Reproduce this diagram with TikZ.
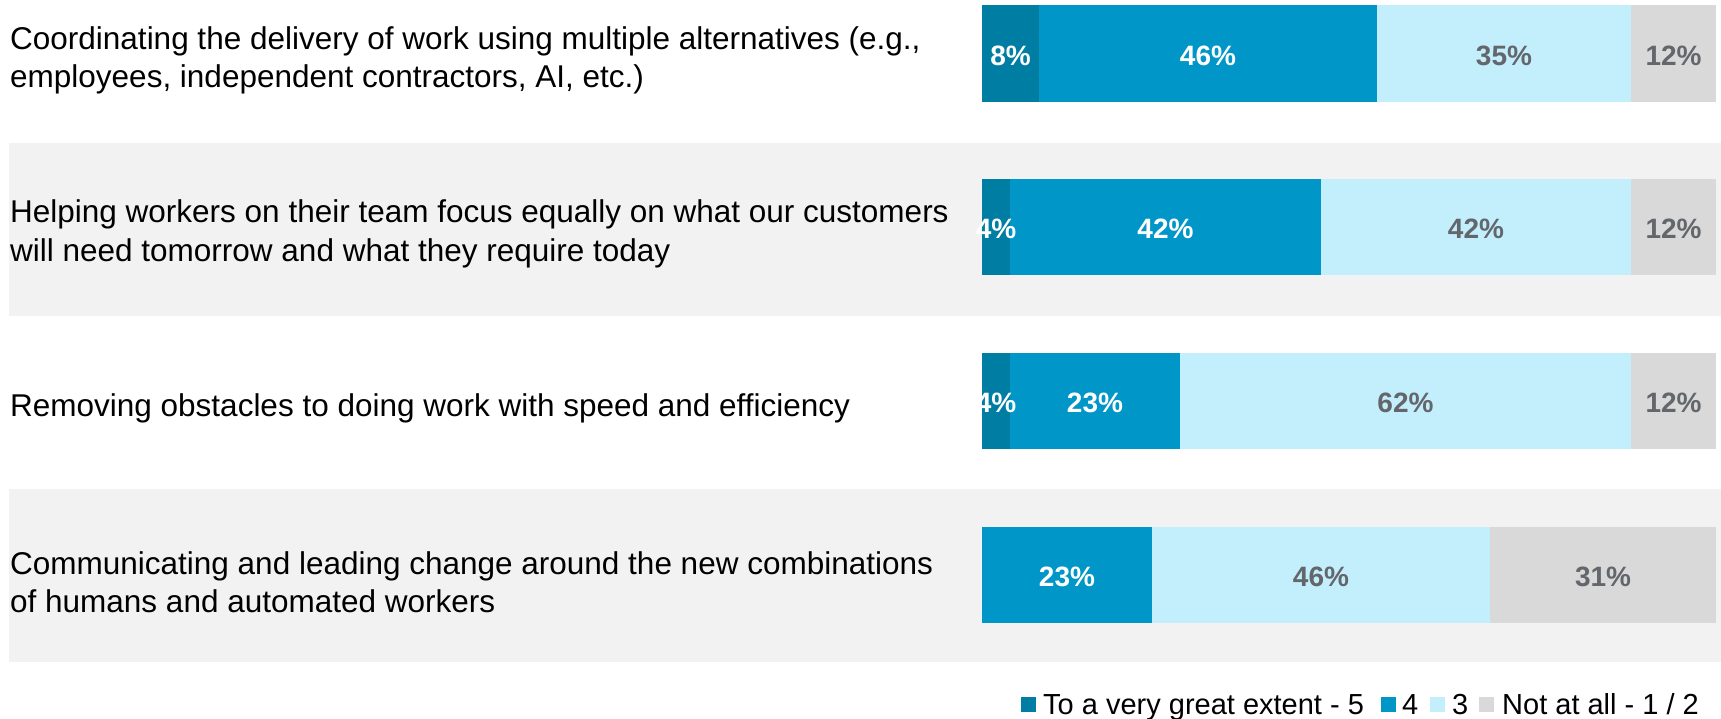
\documentclass[tikz,border=0pt]{standalone}
\usepackage{fontspec}
\setmainfont{Liberation Sans}
\definecolor{cfive}{HTML}{007DA3}
\definecolor{cfour}{HTML}{0096C7}
\definecolor{cthree}{HTML}{C3EFFD}
\definecolor{clow}{HTML}{D9D9D9}
\definecolor{band}{HTML}{F2F2F2}
\definecolor{lbl}{HTML}{63666A}
\begin{document}
\begin{tikzpicture}[x=1pt,y=-1pt,
  cat/.style={anchor=west, align=left, inner sep=0pt, font=\fontsize{31.5}{38.5}\selectfont},
  pw/.style={anchor=base, inner sep=0pt, font=\fontsize{28}{32}\selectfont\bfseries, text=white},
  pg/.style={pw, text=lbl},
  lgd/.style={anchor=base west, inner sep=0pt, font=\fontsize{29}{32}\selectfont}]
\useasboundingbox (0,0) rectangle (1721,718);
% bands
\fill[band] (9,143) rectangle (1721,316);
\fill[band] (9,489) rectangle (1721,662);
% row 1
\fill[cfive] (982,5) rectangle (1039,102);
\fill[cfour] (1039,5) rectangle (1377,102);
\fill[cthree] (1377,5) rectangle (1631,102);
\fill[clow] (1631,5) rectangle (1716,102);
\node[cat] (t1) at (10,60.5) {Coordinating the delivery of work using multiple alternatives (e.g.,\\employees, independent contractors, AI, etc.)};
\node[pw] (p1a) at (1010.5,65) {8\%};
\node[pw] (p1b) at (1208,65) {46\%};
\node[pg] (p1c) at (1504,65) {35\%};
\node[pg] (p1d) at (1673.5,65) {12\%};
% row 2
\fill[cfive] (982,179) rectangle (1010,275);
\fill[cfour] (1010,179) rectangle (1321,275);
\fill[cthree] (1321,179) rectangle (1631,275);
\fill[clow] (1631,179) rectangle (1716,275);
\node[cat] (t2) at (10,234) {Helping workers on their team focus equally on what our customers\\will need tomorrow and what they require today};
\node[pw] (p2a) at (996,238.5) {4\%};
\node[pw] (p2b) at (1165.5,238.5) {42\%};
\node[pg] (p2c) at (1476,238.5) {42\%};
\node[pg] (p2d) at (1673.5,238.5) {12\%};
% row 3
\fill[cfive] (982,353) rectangle (1010,449);
\fill[cfour] (1010,353) rectangle (1180,449);
\fill[cthree] (1180,353) rectangle (1631,449);
\fill[clow] (1631,353) rectangle (1716,449);
\node[cat] (t3) at (10,408.5) {Removing obstacles to doing work with speed and efficiency};
\node[pw] (p3a) at (996,412.5) {4\%};
\node[pw] (p3b) at (1095,412.5) {23\%};
\node[pg] (p3c) at (1405.5,412.5) {62\%};
\node[pg] (p3d) at (1673.5,412.5) {12\%};
% row 4
\fill[cfour] (982,527) rectangle (1152,623);
\fill[cthree] (1152,527) rectangle (1490,623);
\fill[clow] (1490,527) rectangle (1716,623);
\node[cat] (t4) at (10,582) {Communicating and leading change around the new combinations\\of humans and automated workers};
\node[pw] (p4a) at (1067,586.5) {23\%};
\node[pg] (p4b) at (1321,586.5) {46\%};
\node[pg] (p4c) at (1603,586.5) {31\%};
% legend
\fill[cfive] (1021,697) rectangle (1036,712);
\node[lgd] (l5) at (1043,714) {To a very great extent - 5};
\fill[cfour] (1381,697) rectangle (1396,712);
\node[lgd] (l4) at (1402,714) {4};
\fill[cthree] (1430,697) rectangle (1445,712);
\node[lgd] (l3) at (1452,714) {3};
\fill[clow] (1479,697) rectangle (1494,712);
\node[lgd] (l12) at (1502,714) {Not at all - 1 / 2};
\end{tikzpicture}
\end{document}
